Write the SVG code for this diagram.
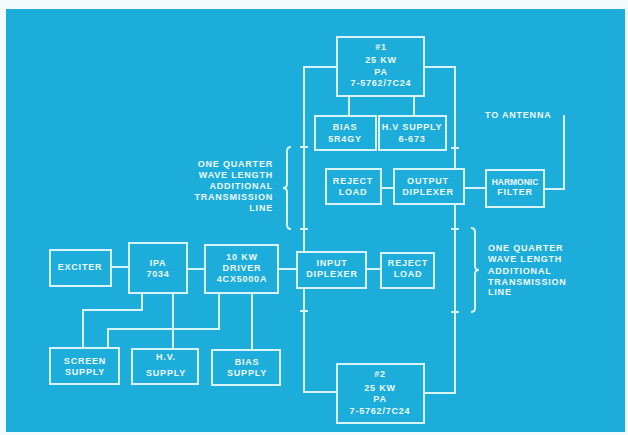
<svg xmlns="http://www.w3.org/2000/svg" width="628" height="435" viewBox="0 0 628 435">
<style>
.bx{fill:#1dadda;stroke:#d9f3fb;stroke-width:2}
.ln{fill:none;stroke:#d9f3fb;stroke-width:2}
text{font-family:"Liberation Sans",Arial,sans-serif;font-weight:bold;font-size:9px;letter-spacing:0.8px;fill:#eefaff;text-anchor:middle}
.l{text-anchor:start}
.r{text-anchor:end}
.n{letter-spacing:0;font-size:8.5px}
</style>
<rect x="0" y="0" width="628" height="435" fill="#f4fbfd"/>
<rect x="6" y="9" width="619" height="423" fill="#1dadda"/>
<g id="connectors" class="ln">
<polyline points="337,67 304,67 304,392 337,392"/>
<polyline points="424,67 455,67 455,393 424,393"/>
<line x1="349" y1="96" x2="349" y2="116"/>
<line x1="414" y1="96" x2="414" y2="116"/>
<line x1="381" y1="188" x2="394" y2="188"/>
<line x1="464" y1="188" x2="486" y2="188"/>
<polyline points="544,189 564,189 564,115"/>
<line x1="111" y1="267" x2="129" y2="267"/>
<line x1="187" y1="269" x2="205" y2="269"/>
<line x1="278" y1="269" x2="297" y2="269"/>
<line x1="366" y1="269" x2="381" y2="269"/>
<polyline points="142,293 142,310 83,310 83,348"/>
<line x1="173" y1="293" x2="173" y2="349"/>
<polyline points="219,293 219,329 108,329 108,348"/>
<line x1="252" y1="293" x2="252" y2="350"/>
<path d="M300,147h8M300,229h8M300,311h8M451,148h8M451,229h8M451,312h8"/>
<path d="M291,147 Q287,147 287,151 L287,184 Q287,188 283,188 Q287,188 287,192 L287,225 Q287,229 291,229"/>
<path d="M471,228 Q475,228 475,232 L475,266 Q475,270 479,270 Q475,270 475,274 L475,308 Q475,312 471,312"/>
</g>
<g id="pa1"><rect class="bx" x="337" y="37" width="87" height="59"/><text x="381" y="50">#1</text><text x="381" y="63">25 KW</text><text x="381" y="75">PA</text><text x="381" y="86">7-5762/7C24</text></g>
<g id="bias1"><rect class="bx" x="315" y="116" width="61" height="34"/><text x="345" y="130">BIAS</text><text x="345" y="142">5R4GY</text></g>
<g id="hv1"><rect class="bx" x="379" y="116" width="67" height="34"/><text x="412" y="130">H.V SUPPLY</text><text x="412" y="142">6-673</text></g>
<g id="reject1"><rect class="bx" x="326" y="169" width="55" height="35"/><text x="353" y="184">REJECT</text><text x="353" y="195">LOAD</text></g>
<g id="outdip"><rect class="bx" x="394" y="169" width="70" height="35"/><text x="428" y="184">OUTPUT</text><text x="428" y="195">DIPLEXER</text></g>
<g id="harm"><rect class="bx" x="486" y="170" width="58" height="37"/><text class="n" x="515" y="185">HARMONIC</text><text x="515" y="195">FILTER</text></g>
<g id="antenna"><text class="l" x="485" y="118">TO ANTENNA</text></g>
<g id="note1"><text class="r" x="273" y="167">ONE QUARTER</text><text class="r" x="273" y="178">WAVE LENGTH</text><text class="r" x="273" y="189">ADDITIONAL</text><text class="r" x="273" y="200">TRANSMISSION</text><text class="r" x="273" y="211">LINE</text></g>
<g id="note2"><text class="l" x="488" y="251">ONE QUARTER</text><text class="l" x="488" y="262">WAVE LENGTH</text><text class="l" x="488" y="274">ADDITIONAL</text><text class="l" x="488" y="285">TRANSMISSION</text><text class="l" x="488" y="295">LINE</text></g>
<g id="exciter"><rect class="bx" x="50" y="250" width="61" height="36"/><text x="80" y="270">EXCITER</text></g>
<g id="ipa"><rect class="bx" x="129" y="243" width="58" height="50"/><text x="158" y="266">IPA</text><text x="158" y="277">7034</text></g>
<g id="driver"><rect class="bx" x="205" y="245" width="73" height="48"/><text x="242" y="260">10 KW</text><text x="242" y="271">DRIVER</text><text x="242" y="282">4CX5000A</text></g>
<g id="indip"><rect class="bx" x="297" y="252" width="69" height="36"/><text x="332" y="266">INPUT</text><text x="332" y="277">DIPLEXER</text></g>
<g id="reject2"><rect class="bx" x="381" y="253" width="53" height="35"/><text x="408" y="266">REJECT</text><text x="408" y="277">LOAD</text></g>
<g id="screen"><rect class="bx" x="50" y="348" width="69" height="36"/><text x="85" y="364">SCREEN</text><text x="85" y="375">SUPPLY</text></g>
<g id="hv2"><rect class="bx" x="132" y="349" width="66" height="35"/><text x="166" y="360">H.V.</text><text x="166" y="376">SUPPLY</text></g>
<g id="biassup"><rect class="bx" x="212" y="350" width="68" height="35"/><text x="247" y="365">BIAS</text><text x="247" y="376">SUPPLY</text></g>
<g id="pa2"><rect class="bx" x="337" y="364" width="87" height="59"/><text x="380" y="377">#2</text><text x="380" y="391">25 KW</text><text x="380" y="402">PA</text><text x="380" y="414">7-5762/7C24</text></g>
</svg>
